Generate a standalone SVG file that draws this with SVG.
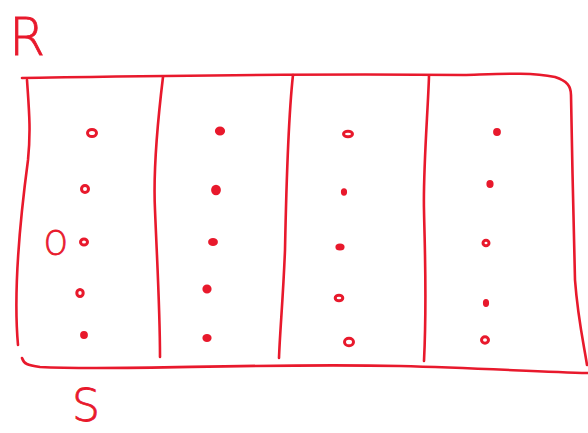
<svg xmlns="http://www.w3.org/2000/svg" width="588" height="433" viewBox="0 0 588 433">
<style>
.l{fill:none;stroke:#e8192c;stroke-width:2.6;stroke-linecap:round;stroke-linejoin:round}
.d{fill:#e8192c;stroke:#e8192c;stroke-width:2.2}
.o{fill:#fff;stroke:#e8192c;stroke-width:3}
.t{fill:#e8192c;stroke:#e8192c;stroke-width:0.8;font-family:"DejaVu Sans","Liberation Sans",sans-serif;font-weight:200}
</style>
<rect width="588" height="433" fill="#fff"/>
<text class="t" x="9" y="55" font-size="52">R</text>
<text class="t" x="44" y="255" font-size="30" transform="translate(44,255) scale(1,1.1) translate(-44,-255)">O</text>
<text class="t" x="72" y="421" font-size="44">S</text>
<g id="frame">
<path class="l" d="M22,78 C150,76 300,73 463,75 C500,74 530,72 555,77 C567,81 571,86 571,95 C572,150 574,250 575,280 C578,320 584,345 587,365"/>
<path class="l" d="M27,80 C29,110 31,130 28,160 C20,220 13,290 18,345"/>
<path class="l" d="M22,358 C24,364 27,365 40,367 C120,371 250,363 400,366 C480,368 540,372 588,373"/>
<path class="l" d="M163,77 C159,110 153,170 155,210 C157,260 160,310 160,357"/>
<path class="l" d="M293,75 C288,120 286,200 285,250 C283,300 280,330 279,358"/>
<path class="l" d="M429,76 C428,110 423,170 424,210 C425,260 427,300 424,361"/>
</g>
<g id="dots">
<ellipse class="o" cx="92" cy="133" rx="4.5" ry="3.5"/>
<ellipse class="o" cx="85" cy="189" rx="3.5" ry="3.5"/>
<ellipse class="o" cx="84" cy="242" rx="3.5" ry="3"/>
<ellipse class="o" cx="80" cy="293" rx="3.2" ry="3.5"/>
<ellipse class="d" cx="84" cy="335" rx="2.8" ry="2.8"/>
<ellipse class="d" cx="220" cy="131" rx="4" ry="3.3"/>
<ellipse class="d" cx="216" cy="190" rx="3.8" ry="4.2"/>
<ellipse class="d" cx="213" cy="242" rx="3.8" ry="3"/>
<ellipse class="d" cx="207" cy="289" rx="3.5" ry="3.5"/>
<ellipse class="d" cx="207" cy="338" rx="3.5" ry="3"/>
<ellipse class="o" cx="348" cy="134" rx="4.5" ry="2.8"/>
<ellipse class="d" cx="344" cy="192" rx="2" ry="2.6"/>
<ellipse class="d" cx="340" cy="247" rx="3.5" ry="2.4"/>
<ellipse class="o" cx="339" cy="298" rx="3.8" ry="2.8"/>
<ellipse class="o" cx="349" cy="342" rx="4.5" ry="3.8"/>
<ellipse class="d" cx="497" cy="132" rx="2.8" ry="3"/>
<ellipse class="d" cx="490" cy="184" rx="2.5" ry="2.8"/>
<ellipse class="o" cx="486" cy="243" rx="3" ry="2.8"/>
<ellipse class="d" cx="486" cy="303" rx="2" ry="3"/>
<ellipse class="o" cx="485" cy="340" rx="3.5" ry="3.2"/>
</g>
</svg>
